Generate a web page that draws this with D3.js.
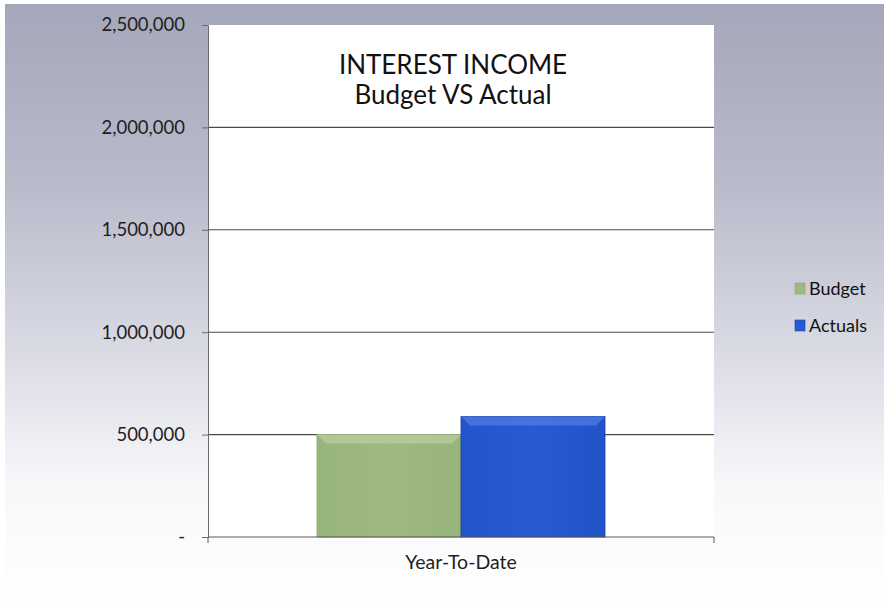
<!DOCTYPE html>
<html>
<head>
<meta charset="utf-8">
<script src="https://cdn.jsdelivr.net/npm/d3@7"></script>
<style>
  html, body { margin: 0; padding: 0; background: #ffffff; }
  svg { display: block; font-family: Lato, "Open Sans", sans-serif; }
</style>
</head>
<body>
<svg id="chart" width="884" height="605"></svg>
<script>
// Interest income, year-to-date: budget vs actuals
const categories = ["Year-To-Date"];
const seriesNames = ["Budget", "Actuals"];
const budgetValues = [500000];
const actualValues = [588000];
const yTickValues = [0, 500000, 1000000, 1500000, 2000000, 2500000];
const yTickLabels = ["-", "500,000", "1,000,000", "1,500,000", "2,000,000", "2,500,000"];
const titleLines = ["INTEREST INCOME", "Budget VS Actual"];

const W = 884, H = 605;
const plot = { left: 208, right: 714, top: 25, bottom: 537 };

const svg = d3.select("#chart");
const defs = svg.append("defs");

// Page background: grey-blue fading to white
const bg = defs.append("linearGradient").attr("id", "bgGrad")
  .attr("x1", 0).attr("y1", 0).attr("x2", 0).attr("y2", 1);
bg.append("stop").attr("offset", "0%").attr("stop-color", "#a5a7ba");
bg.append("stop").attr("offset", "30%").attr("stop-color", "#b9bbcb");
bg.append("stop").attr("offset", "60%").attr("stop-color", "#dcdde6");
bg.append("stop").attr("offset", "80%").attr("stop-color", "#f8f8fb");
bg.append("stop").attr("offset", "100%").attr("stop-color", "#ffffff");

svg.append("rect").attr("width", W).attr("height", H).attr("fill", "#ffffff");
svg.append("rect").attr("x", 5).attr("y", 4).attr("width", W - 5).attr("height", H - 4)
  .attr("fill", "url(#bgGrad)");

// Bar fills
const fills = {
  Budget: { body: ["#98b57b", "#9eb981", "#97b47a"], bevel: "#b6cd9a", edge: "#8aa66c" },
  Actuals: { body: ["#2354cb", "#2a5ad2", "#2152c8"], bevel: "#4a7ae0", edge: "#1a3fa6" }
};
seriesNames.forEach(name => {
  const g = defs.append("linearGradient").attr("id", "grad-" + name)
    .attr("x1", 0).attr("y1", 0).attr("x2", 1).attr("y2", 0);
  fills[name].body.forEach((c, i, a) =>
    g.append("stop").attr("offset", (i / (a.length - 1) * 100) + "%").attr("stop-color", c));
});

// Plot area
svg.append("rect")
  .attr("x", plot.left).attr("y", plot.top)
  .attr("width", plot.right - plot.left).attr("height", plot.bottom - plot.top)
  .attr("fill", "#ffffff");

const y = d3.scaleLinear().domain([0, 2500000]).range([plot.bottom, plot.top]);
const x0 = d3.scaleBand().domain(categories).range([plot.left, plot.right]).paddingInner(0).paddingOuter(0);
// Group occupies band / (1 + gap width)
const gapWidth = 0.757;
const x1 = d3.scaleBand().domain(seriesNames)
  .range([0, x0.bandwidth() / (1 + gapWidth)]);
const groupOffset = (x0.bandwidth() - x0.bandwidth() / (1 + gapWidth)) / 2;

// Gridlines
svg.append("g").selectAll("line")
  .data(yTickValues.filter(v => v > 0 && v < 2500000))
  .join("line")
  .attr("x1", plot.left).attr("x2", plot.right)
  .attr("y1", d => y(d)).attr("y2", d => y(d))
  .attr("stroke", "#4a4a4a").attr("stroke-width", 1.1);

// Bars
const rows = categories.map((c, i) => ({
  category: c,
  values: [
    { series: "Budget", value: budgetValues[i] },
    { series: "Actuals", value: actualValues[i] }
  ]
}));

const groups = svg.append("g").selectAll("g")
  .data(rows).join("g")
  .attr("transform", d => `translate(${x0(d.category) + groupOffset},0)`);

const bars = groups.selectAll("g.bar").data(d => d.values).join("g").attr("class", "bar");

bars.append("rect")
  .attr("x", d => x1(d.series))
  .attr("y", d => y(d.value))
  .attr("width", x1.bandwidth())
  .attr("height", d => y(0) - y(d.value))
  .attr("fill", d => `url(#grad-${d.series})`)
  .attr("stroke", d => fills[d.series].edge)
  .attr("stroke-width", 0.8);

// Bevelled top edge
const bevel = 9;
bars.append("path")
  .attr("d", d => {
    const xl = x1(d.series), xr = xl + x1.bandwidth(), yt = y(d.value);
    return `M${xl},${yt}L${xr},${yt}L${xr - bevel},${yt + bevel}L${xl + bevel},${yt + bevel}Z`;
  })
  .attr("fill", d => fills[d.series].bevel)
  .attr("opacity", 0.8);

// Y axis
const yAxis = svg.append("g")
  .attr("transform", `translate(${plot.left},0)`)
  .call(d3.axisLeft(y).tickValues(yTickValues).tickSize(6).tickPadding(17)
    .tickFormat((d, i) => yTickLabels[i]));
yAxis.select(".domain").attr("stroke", "#6a6a6a");
yAxis.selectAll(".tick line").attr("stroke", "#6a6a6a");
yAxis.selectAll(".tick text")
  .attr("fill", "#1e1e1e").attr("font-size", 18.5)
  .attr("font-family", "Lato, 'Open Sans', sans-serif");

// X axis
const xAxis = svg.append("g")
  .attr("transform", `translate(0,${plot.bottom})`)
  .call(d3.axisBottom(x0).tickSize(0).tickPadding(18));
xAxis.select(".domain").attr("stroke", "#5a5a5a").attr("d", `M${plot.left},6V0H${plot.right}V6`);
xAxis.selectAll(".tick text")
  .attr("fill", "#1e1e1e").attr("font-size", 19.5)
  .attr("font-family", "Lato, 'Open Sans', sans-serif");

// Title
svg.append("text")
  .attr("x", 453).attr("text-anchor", "middle")
  .attr("font-size", 26).attr("fill", "#111111")
  .selectAll("tspan").data(titleLines).join("tspan")
  .attr("x", 453).attr("y", (d, i) => 74 + i * 30)
  .text(d => d);

// Legend
const legend = svg.append("g").selectAll("g")
  .data(seriesNames).join("g")
  .attr("transform", (d, i) => `translate(795,${283 + i * 37})`);
legend.append("rect")
  .attr("width", 10).attr("height", 11)
  .attr("fill", d => fills[d].body[1])
  .attr("stroke", d => fills[d].edge).attr("stroke-width", 0.6);
legend.append("text")
  .attr("x", 14).attr("y", 12)
  .attr("font-size", 18).attr("fill", "#111111")
  .text(d => d);
</script>
</body>
</html>
